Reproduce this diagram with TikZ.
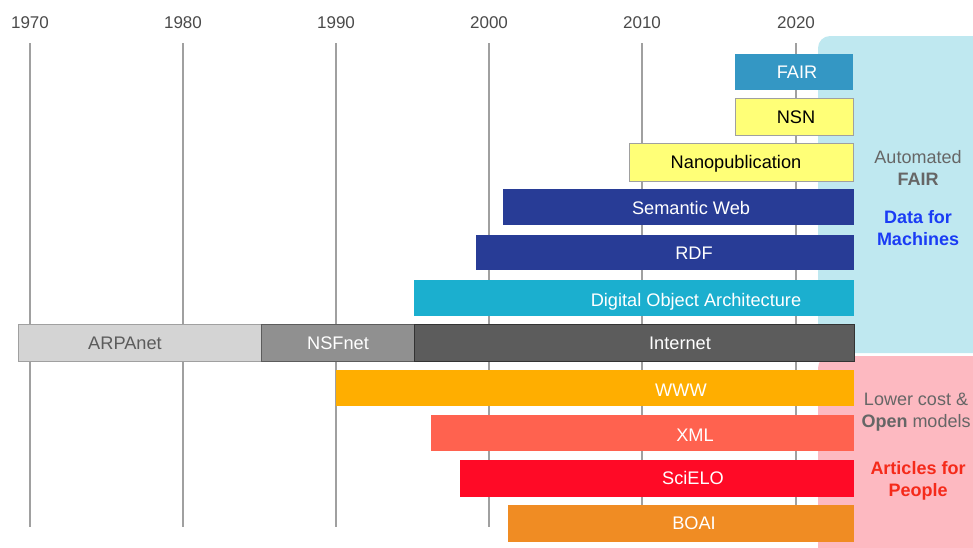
\documentclass[tikz,border=0pt]{standalone}
\usepackage{fontspec}
\setmainfont{Liberation Sans}
\definecolor{gridgray}{HTML}{A0A0A0}
\definecolor{yeartext}{HTML}{4A4A4A}
\definecolor{panelblue}{HTML}{BFE8F0}
\definecolor{panelpink}{HTML}{FDB9C1}
\definecolor{fairblue}{HTML}{3497C4}
\definecolor{nsnyellow}{HTML}{FFFF77}
\definecolor{navy}{HTML}{283C96}
\definecolor{doacyan}{HTML}{1BAFCF}
\definecolor{arpagray}{HTML}{D4D4D4}
\definecolor{nsfgray}{HTML}{909090}
\definecolor{netgray}{HTML}{5C5C5C}
\definecolor{wwworange}{HTML}{FFAE00}
\definecolor{xmlsalmon}{HTML}{FF624F}
\definecolor{scielored}{HTML}{FF0A26}
\definecolor{boaiorange}{HTML}{F08C23}
\definecolor{sidegray}{HTML}{666666}
\definecolor{sideblue}{HTML}{1A3CF5}
\definecolor{sidered}{HTML}{F52A1A}
\begin{document}
\begin{tikzpicture}[x=1pt,y=-1pt,
  every node/.style={font=\fontsize{18.2}{21}\selectfont, inner sep=0pt},
  gridline/.style={draw=gridgray, line width=1.2pt},
  year/.style={text=yeartext, font=\fontsize{17}{20}\selectfont},
  bar/.style={line width=0.6pt},
  barlabel/.style={anchor=base, yshift=-6.5pt},
  whitelabel/.style={barlabel, text=white},
  blacklabel/.style={barlabel, text=black},
  sidelabel/.style={text=sidegray, font=\fontsize{18}{22.5}\selectfont, align=center},
  sidehead/.style={font=\bfseries\fontsize{18}{22.5}\selectfont, align=center}
]
\useasboundingbox (0,0) rectangle (973,547);
\clip (0,0) rectangle (973,547);

% background panels
\fill[panelblue, rounded corners=12pt] (818,36) rectangle (995,353);
\fill[panelpink, rounded corners=12pt] (818,356) rectangle (995,570);

% year grid
\foreach \yr/\x in {1970/30,1980/183,1990/336,2000/489,2010/642,2020/796}{
  \node[year] (y\yr) at (\x,23) {\yr};
  \draw[gridline] (\x,43) -- (\x,527);
}

% data-oriented bars
\fill[fairblue] (735,54) rectangle (853,90);
\node[whitelabel] (fair) at (797,72) {FAIR};
\filldraw[fill=nsnyellow, draw=gridgray, bar] (735,98) rectangle (853,135);
\node[blacklabel] (nsn) at (796,117) {NSN};
\filldraw[fill=nsnyellow, draw=gridgray, bar] (629,143) rectangle (853,181);
\node[blacklabel] (nanopub) at (736,162) {Nanopublication};
\fill[navy] (503,189) rectangle (854,225);
\node[whitelabel] (semweb) at (691,208) {Semantic Web};
\fill[navy] (476,235) rectangle (854,270);
\node[whitelabel] (rdf) at (694,253) {RDF};
\fill[doacyan] (414,280) rectangle (854,316);
\node[whitelabel] (doa) at (696,300) {Digital Object Architecture};

% network backbone
\filldraw[fill=arpagray, draw=gridgray, bar] (18,324) rectangle (261,361);
\node[barlabel, text=netgray] (arpanet) at (125,343) {ARPAnet};
\filldraw[fill=nsfgray, draw=netgray, bar] (261,324) rectangle (414,361);
\node[whitelabel] (nsfnet) at (338,343) {NSFnet};
\filldraw[fill=netgray, draw=black!80, bar] (414,324) rectangle (854,361);
\node[whitelabel] (internet) at (680,343) {Internet};

% people-oriented bars
\fill[wwworange] (336,370) rectangle (854,406);
\node[whitelabel] (www) at (681,390) {WWW};
\fill[xmlsalmon] (431,415) rectangle (854,451);
\node[whitelabel] (xml) at (695,435) {XML};
\fill[scielored] (460,460) rectangle (854,497);
\node[whitelabel] (scielo) at (693,478) {SciELO};
\fill[boaiorange] (508,505) rectangle (854,542);
\node[whitelabel] (boai) at (694,523) {BOAI};

% side annotations
\node[sidelabel] (auto) at (918,168) {Automated\\\textbf{FAIR}};
\node[sidehead, text=sideblue] (machines) at (918,228) {Data for\\Machines};
\node[sidelabel] (lower) at (916,412) {Lower cost \&\\\textbf{Open} models};
\node[sidehead, text=sidered] (people) at (918,481) {Articles for\\People};
\end{tikzpicture}
\end{document}
